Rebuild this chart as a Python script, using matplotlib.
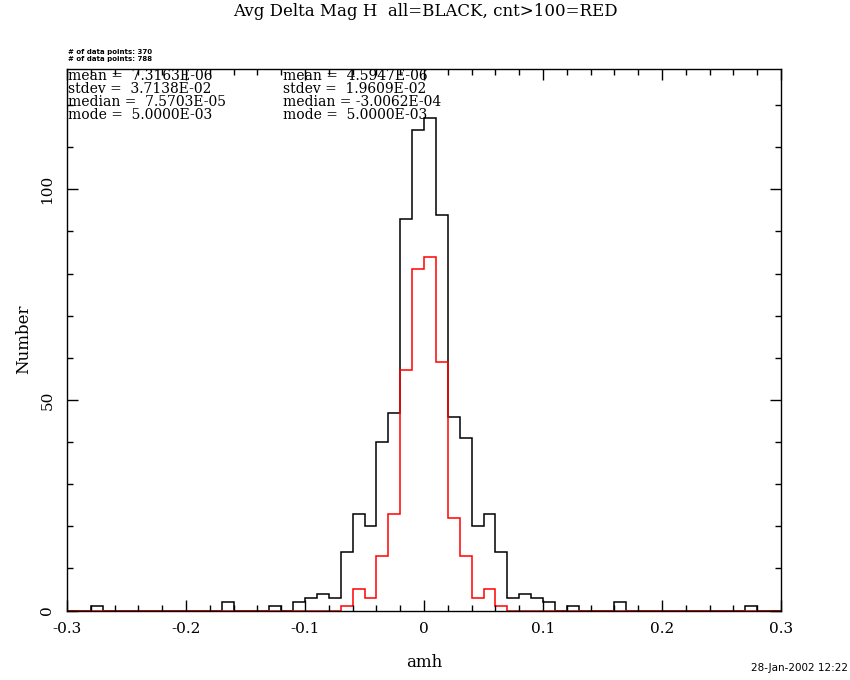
import numpy as np
import matplotlib
matplotlib.use("Agg")
import matplotlib.pyplot as plt
from matplotlib.ticker import MultipleLocator

# bins of width 0.01 from -0.3 to 0.3
bin_lo, bin_hi, bin_w = -0.3, 0.3, 0.01

# all stars (black)
counts_all = [0, 0, 1, 0, 0, 0, 0, 0, 0, 0,
              0, 0, 0, 2, 0, 0, 0, 1, 0, 2,
              3, 4, 3, 14, 23, 20, 40, 47, 93, 114,
              117, 94, 46, 41, 20, 23, 14, 3, 4, 3,
              2, 0, 1, 0, 0, 0, 2, 0, 0, 0,
              0, 0, 0, 0, 0, 0, 0, 1, 0, 0]

# cnt>100 (red)
counts_cnt = [0] * 23 + [1, 5, 3, 13, 23, 57, 81, 84, 59, 22, 13, 3, 5, 1] + [0] * 23

stats_all = ["mean =  7.3163E-06", "stdev =  3.7138E-02",
             "median =  7.5703E-05", "mode =  5.0000E-03"]
stats_cnt = ["mean =  4.5947E-06", "stdev =  1.9609E-02",
             "median = -3.0062E-04", "mode =  5.0000E-03"]
npts_cnt = 370
npts_all = 788

plt.rcParams['font.family'] = ['DejaVu Serif']

W, H = 850, 680
fig = plt.figure(figsize=(W / 100, H / 100), dpi=100)
ax = fig.add_axes([67 / W, 1 - 610.5 / H, (781 - 67) / W, (610.5 - 68.5) / H])

edges = np.linspace(bin_lo, bin_hi, len(counts_all) + 1)
ax.stairs(counts_all, edges, color='black', linewidth=1.1)
ax.stairs(counts_cnt, edges, color='red', linewidth=1.1)

ax.set_xlim(bin_lo, bin_hi)
ax.set_ylim(0, 1.1 * max(counts_all))

ax.xaxis.set_major_locator(MultipleLocator(0.1))
ax.xaxis.set_minor_locator(MultipleLocator(0.02))
ax.yaxis.set_major_locator(MultipleLocator(50))
ax.yaxis.set_minor_locator(MultipleLocator(10))
ax.tick_params(which='both', direction='in', top=True, right=True, width=1.0)
ax.tick_params(which='major', length=8, labelsize=11)
ax.tick_params(axis='x', which='major', pad=8)
ax.tick_params(axis='y', which='major', pad=9)
ax.tick_params(which='minor', length=4)
ax.set_xticklabels([f"{v:g}" if abs(v) > 1e-9 else "0" for v in ax.get_xticks()])
for lab in ax.get_yticklabels():
    lab.set_rotation(90)
    lab.set_va('center')
for sp in ax.spines.values():
    sp.set_linewidth(1.0)

ax.set_xlabel("amh", fontsize=12, labelpad=13)
ax.set_ylabel("Number", fontsize=12, labelpad=6)

fig.text(0.5, 1 - 12 / H, "Avg Delta Mag H  all=BLACK, cnt>100=RED",
         ha='center', va='center', fontsize=12)

# stats blocks
for k, (a, c) in enumerate(zip(stats_all, stats_cnt)):
    y = 1 - (79.5 + 13.2 * k) / H
    fig.text(68 / W, y, a, ha='left', va='baseline', fontsize=10)
    fig.text(283 / W, y, c, ha='left', va='baseline', fontsize=10)

fig.text(68 / W, 1 - 52 / H, f"# of data points: {npts_cnt}", fontsize=5,
         family='DejaVu Sans', weight='bold', va='center')
fig.text(68 / W, 1 - 58.5 / H, f"# of data points: {npts_all}", fontsize=5,
         family='DejaVu Sans', weight='bold', va='center')

fig.text(848 / W, 1 - 668 / H, "28-Jan-2002 12:22", fontsize=7.5,
         family='DejaVu Sans', ha='right', va='center')

fig.savefig("out.png", dpi=100)
